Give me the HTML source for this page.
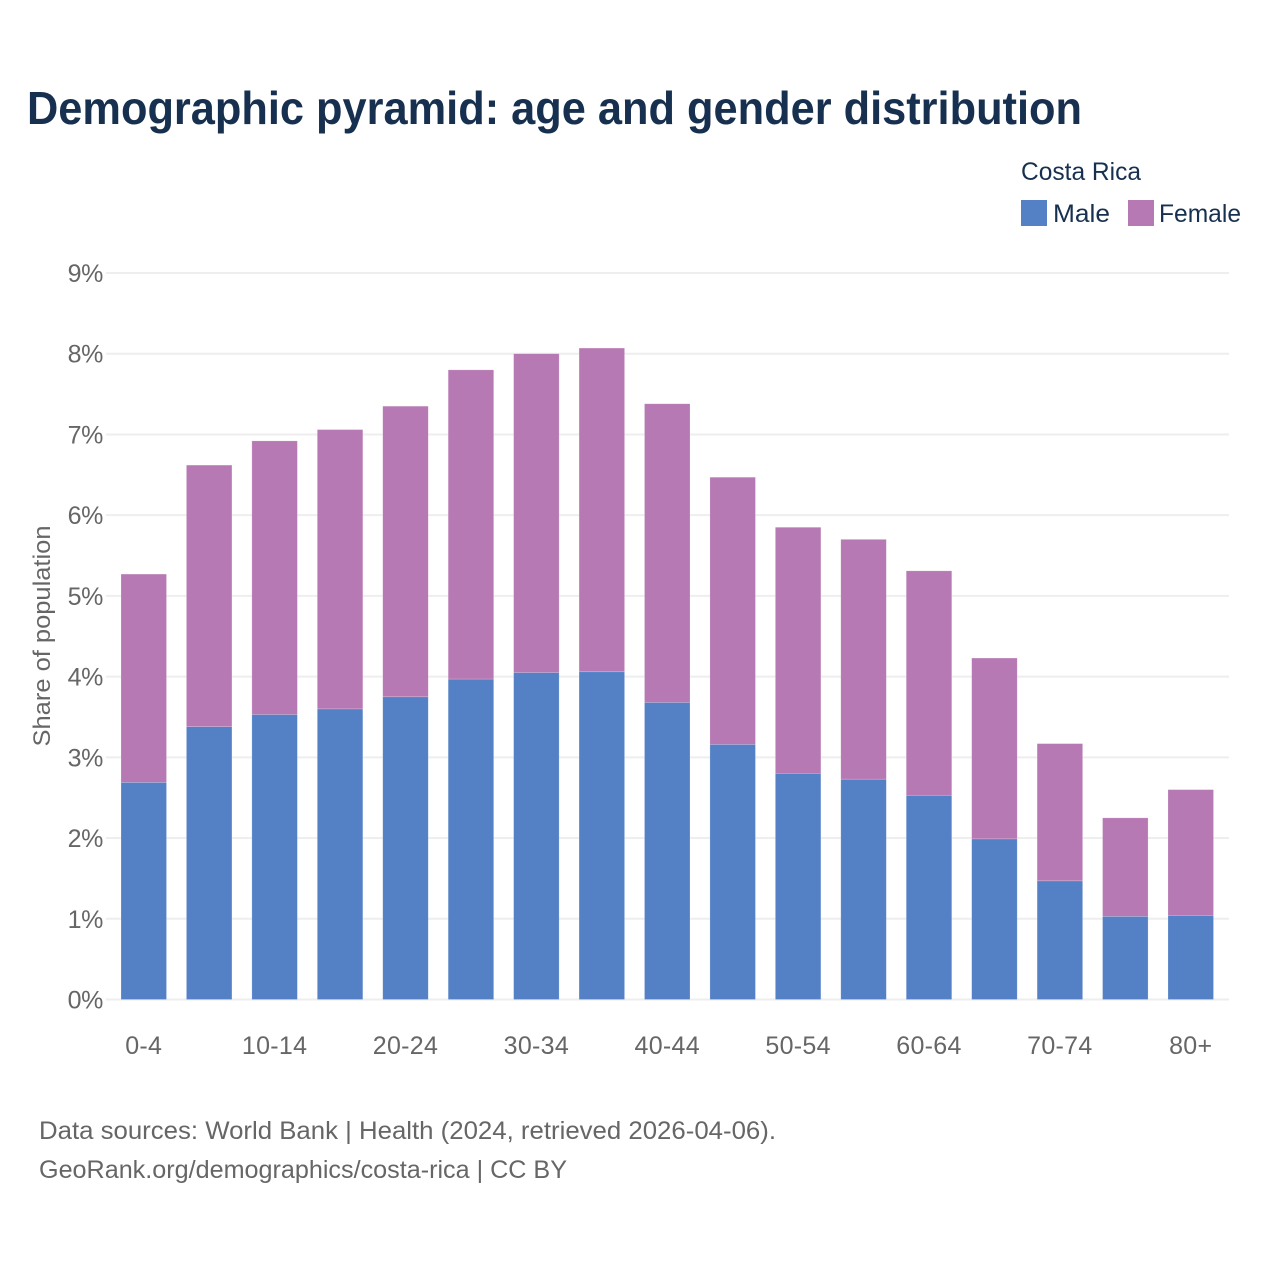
<!DOCTYPE html>
<html>
<head>
<meta charset="utf-8">
<title>Demographic pyramid</title>
<style>
html,body{margin:0;padding:0;background:#fff;}
svg{display:block;font-family:"Liberation Sans",sans-serif;}
</style>
</head>
<body>
<svg id="chart" width="1280" height="1280" viewBox="0 0 1280 1280">
<rect x="0" y="0" width="1280" height="1280" fill="#ffffff"></rect>
<text x="27" y="124" font-size="46" font-weight="700" fill="#17304f" textLength="1055" lengthAdjust="spacingAndGlyphs">Demographic pyramid: age and gender distribution</text>
<text x="1021" y="180" font-size="25" fill="#17304f" textLength="120" lengthAdjust="spacingAndGlyphs">Costa Rica</text>
<rect x="1021" y="200" width="26" height="26" fill="#5481c6"></rect>
<text x="1053" y="222" font-size="25" fill="#17304f" textLength="57" lengthAdjust="spacingAndGlyphs">Male</text>
<rect x="1128" y="200" width="26" height="26" fill="#b679b3"></rect>
<text x="1159" y="222" font-size="25" fill="#17304f" textLength="82" lengthAdjust="spacingAndGlyphs">Female</text>
<g id="grid"></g>
<g id="bars"></g>
<g id="yticks"></g>
<g id="xticks"></g>
<text transform="translate(50,636) rotate(-90)" text-anchor="middle" font-size="24" fill="#666666" textLength="221" lengthAdjust="spacingAndGlyphs">Share of population</text>
<text x="39" y="1139" font-size="25" fill="#666666" textLength="737" lengthAdjust="spacingAndGlyphs">Data sources: World Bank | Health (2024, retrieved 2026-04-06).</text>
<text x="39" y="1178" font-size="25" fill="#666666" textLength="528" lengthAdjust="spacingAndGlyphs">GeoRank.org/demographics/costa-rica | CC BY</text>
</svg>
<script>
const ageGroups = ['0-4','5-9','10-14','15-19','20-24','25-29','30-34','35-39','40-44','45-49','50-54','55-59','60-64','65-69','70-74','75-79','80+'];
const maleShare = [2.69,3.38,3.53,3.60,3.75,3.97,4.05,4.06,3.68,3.16,2.80,2.73,2.53,1.99,1.47,1.03,1.04];
const femaleShare = [2.58,3.24,3.39,3.46,3.60,3.83,3.95,4.01,3.70,3.31,3.05,2.97,2.78,2.24,1.70,1.22,1.56];
const yTickValues = [0,1,2,3,4,5,6,7,8,9];
const xTickLabels = ['0-4','10-14','20-24','30-34','40-44','50-54','60-64','70-74','80+'];

const NS = 'http://www.w3.org/2000/svg';
function yScale(v){ return 999.5 - v * (999.5 - 273) / 9; }
function xBand(i){ return 121 + i * (1168 - 121) / 16; }
const BAR_WIDTH = 45.5;
function make(tag, attrs, parent){
  const el = document.createElementNS(NS, tag);
  for (const k in attrs) el.setAttribute(k, attrs[k]);
  parent.appendChild(el);
  return el;
}

const gridG = document.getElementById('grid');
const barsG = document.getElementById('bars');
const yG = document.getElementById('yticks');
const xG = document.getElementById('xticks');

yTickValues.forEach(function(v){
  const line = make('line', {x1:106, x2:1229, y1:yScale(v), y2:yScale(v), stroke:'#eeeeef', 'stroke-width':2}, gridG);
  
  
  const t = make('text', {x:103, y:yScale(v) + 9, 'text-anchor':'end', 'font-size':25, fill:'#666666', 'letter-spacing':-0.4}, yG);
  
  
  t.textContent = v + '%';
});

ageGroups.forEach(function(age, i){
  const m = maleShare[i], f = femaleShare[i];
  const male = make('rect', {x:xBand(i), y:yScale(m), width:BAR_WIDTH, height:yScale(0) - yScale(m), fill:'#5481c6', stroke:'#ffffff', 'stroke-opacity':0.3, 'stroke-width':0.6}, barsG);
  
  
  const female = make('rect', {x:xBand(i), y:yScale(m + f), width:BAR_WIDTH, height:yScale(m) - yScale(m + f), fill:'#b679b3', stroke:'#ffffff', 'stroke-opacity':0.3, 'stroke-width':0.6}, barsG);
  
  
});

xTickLabels.forEach(function(label){
  const i = ageGroups.indexOf(label);
  const t = make('text', {x:xBand(i) + BAR_WIDTH / 2, y:1054, 'text-anchor':'middle', 'font-size':25, fill:'#666666', 'letter-spacing':0.3}, xG);
  
  
  t.textContent = label;
});
</script>
</body>
</html>
